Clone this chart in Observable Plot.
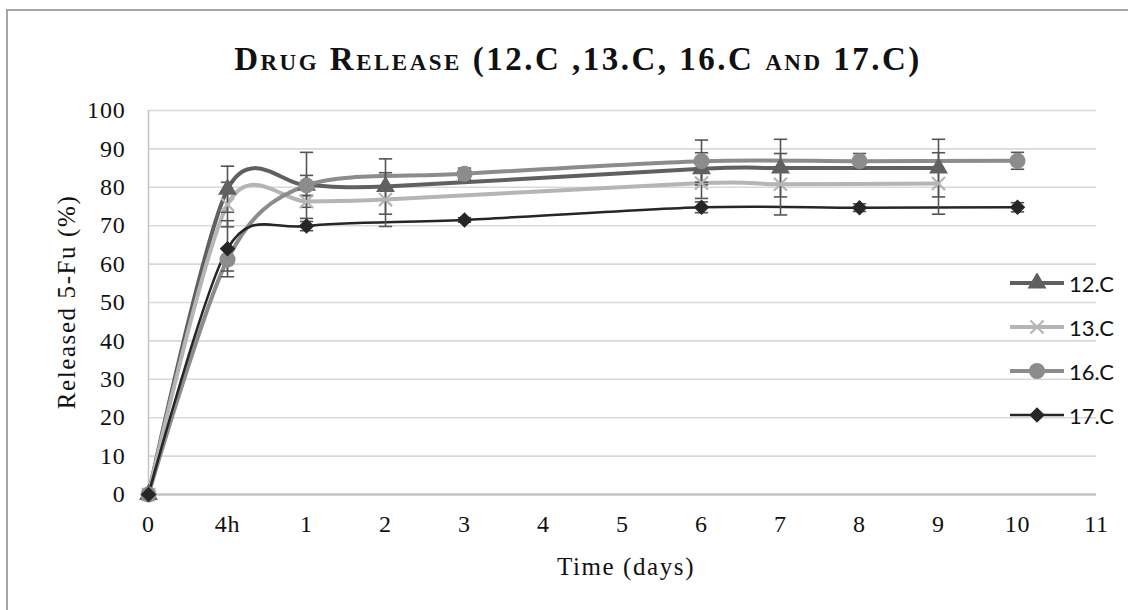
<!DOCTYPE html>
<html>
<head>
<meta charset="utf-8">
<script src="https://cdn.jsdelivr.net/npm/d3@7"></script>
<script src="https://cdn.jsdelivr.net/npm/@observablehq/plot@0.6"></script>
<style>
  html, body { margin: 0; padding: 0; background: #fff; }
  #wrap { position: relative; width: 1128px; height: 610px; overflow: hidden; background: #fff; }
  #frame { position: absolute; left: 6px; top: 9px; width: 1200px; height: 700px; border-left: 2.5px solid #a6a6a6; border-top: 2.5px solid #a6a6a6; box-sizing: border-box; }
  #title { position: absolute; left: 0; width: 1156px; top: 41px; text-align: center; font-family: "Liberation Serif", serif; font-weight: bold; font-variant: small-caps; font-size: 33px; letter-spacing: 2.5px; color: #111; }
  #xlabel { position: absolute; left: 0; width: 1252px; top: 553px; text-align: center; font-family: "Liberation Serif", serif; font-size: 25px; letter-spacing: 1.6px; color: #111; }
  #ylabel { position: absolute; left: 67px; top: 302px; transform: translate(-50%, -50%) rotate(-90deg); white-space: nowrap; font-family: "Liberation Serif", serif; font-size: 25px; letter-spacing: 1.6px; color: #111; }
  #legend { position: absolute; left: 1008px; top: 261px; font-family: Lato, sans-serif; font-size: 22px; color: #111; }
  .lg { display: flex; align-items: center; height: 44px; }
  .lg svg { margin-right: 3px; }
  #chart { position: absolute; left: 0; top: 0; }
  #chart text { letter-spacing: 0.8px; }
</style>
</head>
<body>
<div id="wrap">
  <div id="frame"></div>
  <div id="chart"></div>
  <div id="title">Drug Release (12.C ,13.C, 16.C and 17.C)</div>
  <div id="xlabel">Time (days)</div>
  <div id="ylabel">Released 5-Fu (%)</div>
  <div id="legend"></div>
</div>
<script>
// ---- data ----
const xTickLabels = ["0", "4h", "1", "2", "3", "4", "5", "6", "7", "8", "9", "10", "11"];
const yTicks = [0, 10, 20, 30, 40, 50, 60, 70, 80, 90, 100];

const seriesNames = ["12.C", "13.C", "16.C", "17.C"];

// time points (labels) for each series
const time12 = ["0", "4h", "1", "2", "6", "7", "9"];
const val12  = [0, 79.5, 80.5, 80.2, 84.8, 85.0, 85.0];
const err12  = [0, 6.0, 2.6, 7.2, 4.2, 7.5, 7.5];

const time13 = ["0", "4h", "1", "2", "6", "7", "9"];
const val13  = [0, 75.5, 76.3, 76.8, 81.1, 80.8, 81.0];
const err13  = [0, 5.8, 1.5, 7.0, 4.0, 8.0, 8.0];

const time16 = ["0", "4h", "1", "3", "6", "8", "10"];
const val16  = [0, 61.2, 80.5, 83.5, 86.8, 86.8, 86.9];
const err16  = [0, 3.0, 8.6, 1.5, 5.5, 2.0, 2.2];

const time17 = ["0", "4h", "1", "3", "6", "8", "10"];
const val17  = [0, 64.0, 69.9, 71.5, 74.8, 74.7, 74.8];
const err17  = [0, 7.3, 1.2, 0.6, 1.4, 1.0, 1.2];

// ---- styles ----
const colors  = {"12.C": "#606060", "13.C": "#b5b5b5", "16.C": "#8c8c8c", "17.C": "#262626"};
const widths  = {"12.C": 4, "13.C": 4, "16.C": 4, "17.C": 2.5};
const symbols = {"12.C": "triangle", "13.C": "times", "16.C": "circle", "17.C": "diamond2"};
const radii   = {"12.C": 7, "13.C": 6, "16.C": 8, "17.C": 7};

function build(name, times, vals, errs) {
  return times.map((t, i) => ({series: name, x: xTickLabels.indexOf(t), y: vals[i], e: errs[i]}));
}
const sets = [
  build("12.C", time12, val12, err12),
  build("13.C", time13, val13, err13),
  build("16.C", time16, val16, err16),
  build("17.C", time17, val17, err17)
];
const allPts = sets.flat();
const errPts = allPts.filter(d => d.e > 0);

const capSymbol = {
  draw(context, size) {
    const w = Math.sqrt(size) / 2;
    context.moveTo(-w, 0);
    context.lineTo(w, 0);
  }
};

const marks = [
  Plot.gridY(yTicks, {stroke: "#d9d9d9", strokeOpacity: 1, strokeWidth: 1.6, x1: 0, x2: 12}),
  Plot.ruleX([0], {stroke: "#c4c4c4", strokeWidth: 1.5}),
  Plot.ruleY([0], {stroke: "#c4c4c4", strokeWidth: 2.5, x1: 0, x2: 12}),
  Plot.axisY(yTicks, {tickSize: 0, tickPadding: 23, label: null, fontSize: 24}),
  Plot.axisX(d3.range(xTickLabels.length), {tickSize: 0, tickPadding: 20, label: null, tickFormat: i => xTickLabels[i], fontSize: 24})
];
for (const s of sets) {
  const n = s[0].series;
  marks.push(Plot.line(s, {x: "x", y: "y", stroke: colors[n], strokeWidth: widths[n], curve: "cardinal", tension: 0.12}));
}
marks.push(Plot.ruleX(errPts, {x: "x", y1: d => d.y - d.e, y2: d => d.y + d.e, stroke: "#555", strokeWidth: 1.6}));
marks.push(Plot.dot(errPts, {x: "x", y: d => d.y - d.e, symbol: capSymbol, r: 7.5, stroke: "#555", strokeWidth: 1.6, fill: "none"}));
marks.push(Plot.dot(errPts, {x: "x", y: d => d.y + d.e, symbol: capSymbol, r: 7.5, stroke: "#555", strokeWidth: 1.6, fill: "none"}));
for (const s of sets) {
  const n = s[0].series;
  if (symbols[n] === "times") {
    marks.push(Plot.dot(s, {x: "x", y: "y", symbol: "times", r: radii[n], stroke: colors[n], strokeWidth: 2.2}));
  } else {
    marks.push(Plot.dot(s, {x: "x", y: "y", symbol: symbols[n], r: radii[n], fill: colors[n], stroke: "none"}));
  }
}

const chart = Plot.plot({
  width: 1128,
  height: 610,
  marginLeft: 148,
  marginRight: 32,
  marginTop: 110,
  marginBottom: 116,
  style: {fontFamily: "'Liberation Serif', serif", fontSize: "24px", color: "#111", background: "transparent"},
  x: {domain: [0, 12], axis: null},
  y: {domain: [0, 100], axis: null},
  marks
});
document.getElementById("chart").appendChild(chart);

// legend
const legend = document.getElementById("legend");
for (const n of seriesNames) {
  const row = document.createElement("div");
  row.className = "lg";
  const sym = symbols[n];
  const symPath = d3.symbol(
    sym === "triangle" ? d3.symbolTriangle : sym === "times" ? d3.symbolTimes : sym === "circle" ? d3.symbolCircle : d3.symbolDiamond2,
    Math.PI * radii[n] * radii[n]
  )();
  const symAttrs = sym === "times"
    ? `fill="none" stroke="${colors[n]}" stroke-width="2.2"`
    : `fill="${colors[n]}"`;
  row.innerHTML = `<svg width="58" height="20"><line x1="2" x2="56" y1="10" y2="10" stroke="${colors[n]}" stroke-width="${widths[n]}"/><path transform="translate(29,10)" d="${symPath}" ${symAttrs}/></svg><span>${n}</span>`;
  legend.appendChild(row);
}
</script>
</body>
</html>
